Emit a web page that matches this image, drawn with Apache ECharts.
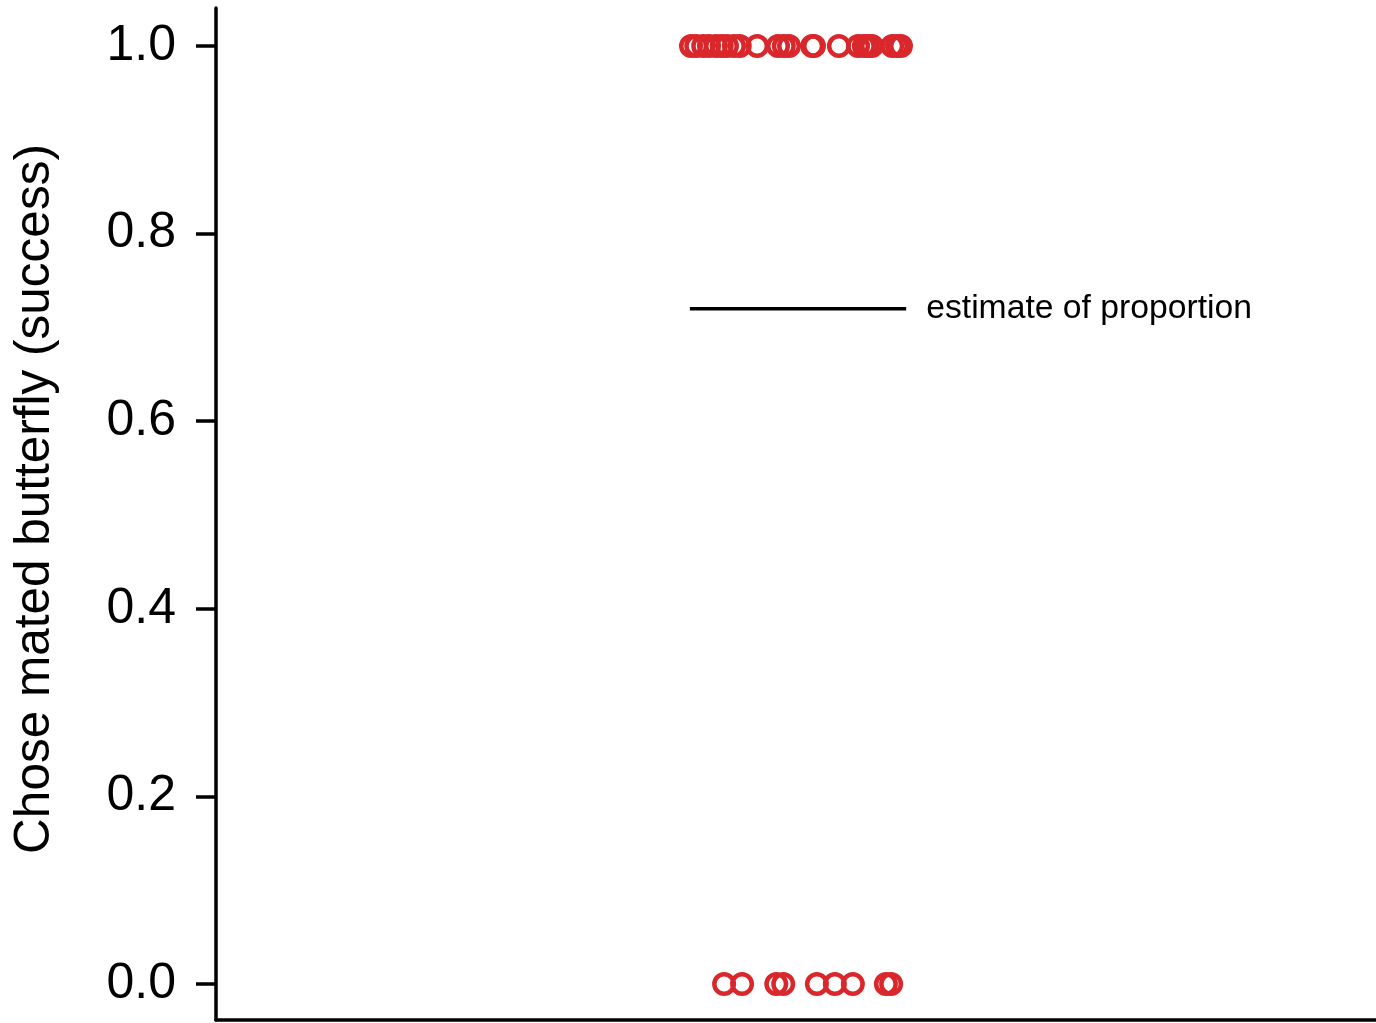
<!DOCTYPE html>
<html>
<head>
<meta charset="utf-8">
<script src="https://cdn.jsdelivr.net/npm/echarts@6/dist/echarts.min.js"></script>
<style>
html,body{margin:0;padding:0;background:#fff;}
#chart{width:1376px;height:1023px;}
</style>
</head>
<body>
<div id="chart"></div>
<script>
// Jittered x positions (group centred at 1) for each outcome
const successX = [0.819,0.828,0.840,0.850,0.862,0.872,0.881,0.893,0.903,0.933,0.969,0.979,0.988,1.028,1.031,1.074,1.107,1.117,1.124,1.131,1.166,1.174,1.181];
const failureX = [0.876,0.907,0.966,0.978,1.036,1.067,1.098,1.155,1.164];
const successY = 1;
const failureY = 0;
const estimate = 0.72;
const estimateSpan = [0.817, 1.19];
const estimateLabel = 'estimate of proportion';
const yTicks = [0, 0.2, 0.4, 0.6, 0.8, 1.0];
const yTitle = 'Chose mated butterfly (success)';

const chart = echarts.init(document.getElementById('chart'));
const red = '#d9272b';
const fontFam = '"Liberation Sans", Arial, Helvetica, sans-serif';

chart.setOption({
  animation: false,
  grid: {left: 216, right: 0, top: 8, bottom: 3, containLabel: false},
  xAxis: {
    type: 'value', min: 0, max: 2,
    axisLine: {show: true, onZero: false, lineStyle: {color: '#000', width: 3.5}},
    axisTick: {show: false}, axisLabel: {show: false}, splitLine: {show: false}
  },
  yAxis: {
    type: 'value', min: -0.0384, max: 1.0405,
    name: yTitle, nameLocation: 'middle', nameGap: 156,
    nameTextStyle: {fontSize: 49.5, color: '#000', fontFamily: fontFam, padding: [0, 0, 0, 30]},
    axisLine: {show: true, lineStyle: {color: '#000', width: 3.5}},
    axisTick: {show: true, length: 20, customValues: yTicks, lineStyle: {color: '#000', width: 3.5}},
    axisLabel: {show: true, margin: 40, customValues: yTicks, fontSize: 50, color: '#000', fontFamily: fontFam,
      formatter: v => Number(v).toFixed(1)},
    splitLine: {show: false}
  },
  series: [
    {
      type: 'scatter', symbol: 'circle', symbolSize: 19.5,
      itemStyle: {color: 'rgba(0,0,0,0)', borderColor: red, borderWidth: 4.5, opacity: 1},
      data: successX.map(x => [x, successY])
    },
    {
      type: 'scatter', symbol: 'circle', symbolSize: 19.5,
      itemStyle: {color: 'rgba(0,0,0,0)', borderColor: red, borderWidth: 4.5, opacity: 1},
      data: failureX.map(x => [x, failureY])
    },
    {
      type: 'line', symbol: 'none', showSymbol: false,
      lineStyle: {color: '#000', width: 3.5},
      data: [[estimateSpan[0], estimate], [estimateSpan[1], estimate]],
      endLabel: {show: true, distance: 20, formatter: estimateLabel,
                 fontSize: 33.7, color: '#000', fontFamily: fontFam}
    }
  ]
});
</script>
</body>
</html>
